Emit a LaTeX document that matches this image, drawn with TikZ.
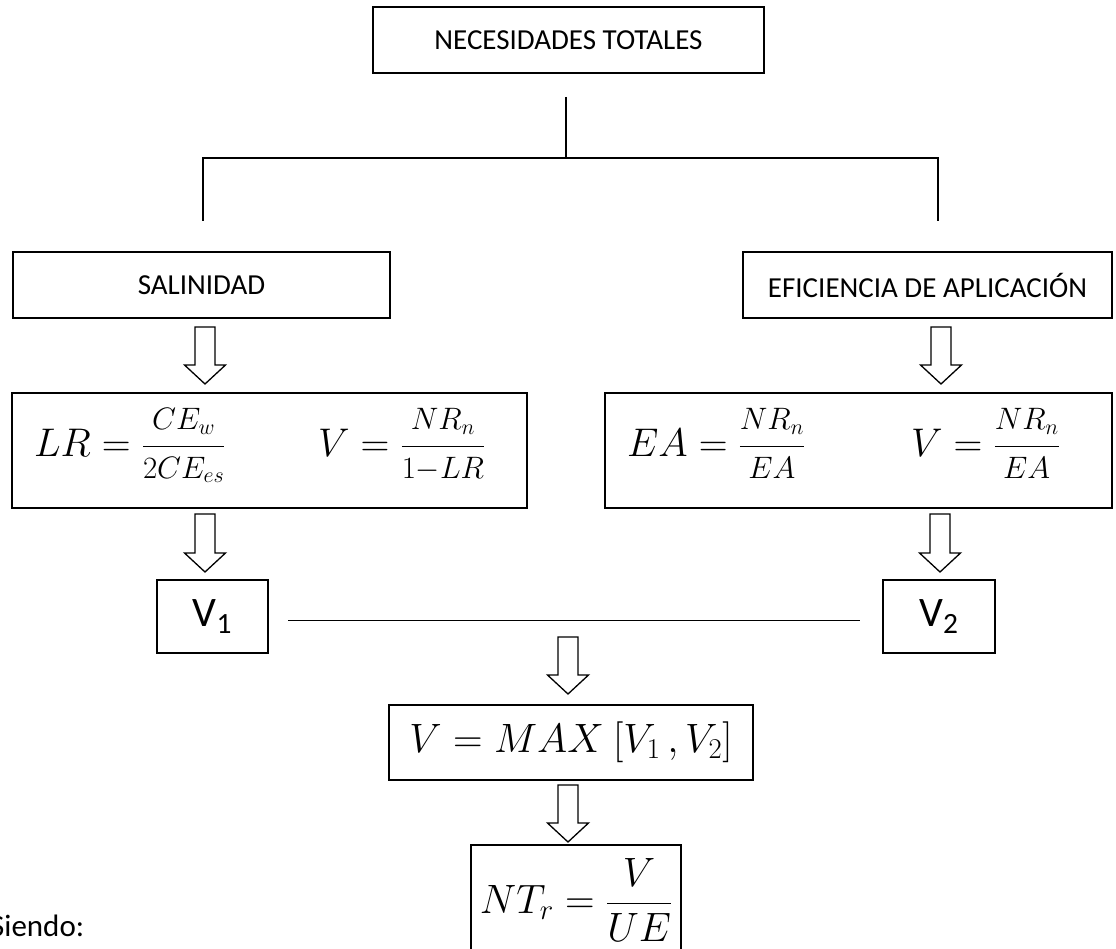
\documentclass[tikz,border=0pt]{standalone}
\usepackage{fix-cm}
\usepackage[no-math]{fontspec}
\setmainfont{Carlito}
\usetikzlibrary{calc}
\DeclareMathSizes{40}{40}{31}{22}
\newcommand\blockarrow[2]{%
  \draw[blk] let \p1=(#1), \p2=(#2) in
    (\x1-10pt,\y1) -- (\x1+10pt,\y1) -- (\x1+10pt,\y2+19pt) -- (\x1+20.5pt,\y2+19pt)
    -- (\x1,\y2) -- (\x1-20.5pt,\y2+19pt) -- (\x1-10pt,\y2+19pt) -- cycle;}
\newcommand\sfr[2]{{\displaystyle\frac{\scriptstyle #1}{\raisebox{6pt}{$\scriptstyle #2$}}}}
\newcommand\frow[3]{\hbox to #1{\rule[-36pt]{0pt}{0pt}\hspace{22pt}\makebox[284pt][l]{#2}#3\hfil}}
\tikzset{
  box/.style={draw, line width=1.3pt, inner sep=0pt, outer sep=0pt},
  lbl/.style={font=\fontsize{29}{35}\selectfont},
  vlbl/.style={font=\fontsize{42}{50}\selectfont},
  mth/.style={font=\fontsize{41}{49}\selectfont, inner sep=0pt},
  fmth/.style={font=\fontsize{40}{48}\selectfont, inner sep=0pt},
  conn/.style={line width=1.3pt},
  blk/.style={draw, line width=1.3pt, line join=miter, fill=white},
}
\begin{document}
\begin{tikzpicture}[x=1pt,y=-1pt]
\useasboundingbox (0,0) rectangle (1116,949);
\fill[white] (0,0) rectangle (1116,949);
\clip (0,0) rectangle (1116,949);

% boxes
\node[box, lbl, minimum width=391pt, minimum height=66pt] (top) at (568.5,40) {NECESIDADES TOTALES};
\node[box, lbl, minimum width=377pt, minimum height=66pt] (sal) at (201.5,285) {SALINIDAD};
\node[box, lbl, minimum width=369pt, minimum height=66pt] (efi) at (927.5,285) {EFICIENCIA DE APLICACIÓN};
\node[box, fmth, minimum width=515pt, minimum height=115pt] (f1) at (269.5,450.5)
  {\frow{515pt}{$LR = \sfr{CE_w}{2CE_{es}}$}{$V = \sfr{NR_n}{1{-}LR}$}};
\node[box, fmth, minimum width=507pt, minimum height=115pt] (f2) at (858.5,450.5)
  {\frow{507pt}{$EA = \sfr{NR_n}{EA}$}{$V = \sfr{NR_n}{EA}$}};
\node[box, vlbl, minimum width=111pt, minimum height=73pt] (v1) at (212.5,616.5) {V\textsubscript{1}};
\node[box, vlbl, minimum width=112pt, minimum height=73pt] (v2) at (939,616.5) {V\textsubscript{2}};
\node[box, mth, minimum width=364pt, minimum height=75pt] (max) at (571,742.5) {$V = MAX\ [V_1\,,V_2]$};
\node[box, mth, minimum width=210pt, minimum height=110pt] (nt) at (576,900) {$NT_r = {\displaystyle\frac{V}{UE}}$};
\node[font=\fontsize{31}{37}\selectfont, anchor=base west, inner sep=0pt] (siendo) at (-10,936) {Siendo:};

% tree connectors
\draw[conn] ($(top.south)+(-2.5,24)$) coordinate (j0) -- ++(0,61) coordinate (j1);
\draw[conn] (j1) -| ($(sal.north)+(1.5,-31)$);
\draw[conn] (j1) -| ($(efi.north)+(10.5,-31)$);

% V1 -- V2 line
\draw[conn] ($(v1.east)+(20,4)$) -- ($(v2.west)+(-23,4)$);

% block arrows
\blockarrow{$(sal.south)+(3.5,9)$}{$(f1.north)+(0,-9)$}
\blockarrow{$(efi.south)+(13.5,9)$}{$(f2.north)+(0,-9)$}
\blockarrow{$(f1.south)+(-64.5,6)$}{$(v1.north)+(0,-8)$}
\blockarrow{$(f2.south)+(81.5,6)$}{$(v2.north)+(0,-8)$}
\blockarrow{$(v1.east)!0.5!(v2.west)+(-7.5,20.5)$}{$(max.north)+(0,-11)$}
\blockarrow{$(max.south)+(-3,5)$}{$(nt.north)+(0,-3)$}
\end{tikzpicture}
\end{document}
